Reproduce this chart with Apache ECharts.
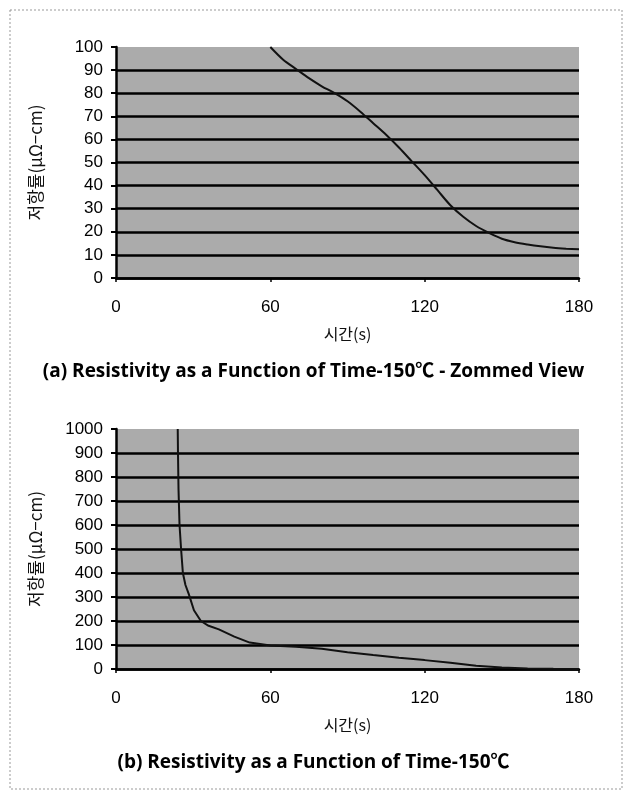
<!DOCTYPE html>
<html>
<head>
<meta charset="utf-8">
<script src="https://cdn.jsdelivr.net/npm/echarts@6/dist/echarts.min.js"></script>
<style>
html,body{margin:0;padding:0;background:#fff;}
#chart{width:627px;height:792px;}
</style>
</head>
<body>
<div id="chart"></div>
<script>
// ---- data ----
var xTicks = [0, 60, 120, 180];
var timeA = [60, 65, 70, 75, 80, 85, 90, 95, 100, 105, 110, 115, 120, 125, 130, 135, 140, 145, 150, 155, 160, 165, 170, 175, 180];
var resA  = [100, 94.5, 90.5, 86.5, 83, 80, 76.5, 72, 67, 62, 56.5, 50.5, 44.5, 38, 31.5, 26.5, 22.5, 19.5, 17, 15.5, 14.5, 13.7, 13.1, 12.7, 12.4];
var timeB = [24, 24.1, 24.3, 24.7, 25.3, 26, 27, 28.3, 30.3, 33, 36, 40, 46, 52, 60, 70, 80, 90, 100, 110, 120, 130, 140, 150, 160, 170, 180];
var resB  = [1000, 900, 750, 600, 500, 400, 350, 312, 245, 200, 180, 165, 135, 110, 98, 93, 84, 70, 58, 47, 37, 26, 14, 6, 2, 1, 0.5];
var yTicksA = [0, 10, 20, 30, 40, 50, 60, 70, 80, 90, 100];
var yTicksB = [0, 100, 200, 300, 400, 500, 600, 700, 800, 900, 1000];
var captionA = '(a) Resistivity as a Function of Time-150\u2103 - Zommed View';
var captionB = '(b) Resistivity as a Function of Time-150\u2103';
var xName = '\uC2DC\uAC04(s)';
var yName = '\uC800\uD56D\uB960(\u03BC\u03A9\u2212cm)';

function pairs(xs, ys){ return xs.map(function(x,i){ return [x, ys[i]]; }); }

var numFont = '"Liberation Sans", Arial, sans-serif';
var krFont = '"Noto Sans CJK KR", sans-serif';
var capFont = '"Open Sans", "Noto Sans CJK KR", sans-serif';

function xAxisCfg(idx){
  return {
    gridIndex: idx, type: 'value', min: xTicks[0], max: xTicks[xTicks.length-1], interval: 60,
    name: xName, nameLocation: 'middle', nameGap: 48,
    nameTextStyle: {fontFamily: krFont, fontSize: 16, color: '#111'},
    axisLine: {show: true, lineStyle: {color: '#000', width: 2.5}},
    axisTick: {show: true, length: 4, lineStyle: {color: '#000', width: 1.5}},
    axisLabel: {margin: 21, fontFamily: numFont, fontSize: 17, color: '#000',
      formatter: function(v){ return String(v); }},
    splitLine: {show: false}
  };
}
function yAxisCfg(idx, ticks){
  return {
    gridIndex: idx, type: 'value', min: ticks[0], max: ticks[ticks.length-1], interval: ticks[1]-ticks[0],
    name: yName, nameLocation: 'middle', nameGap: 72, nameRotate: 90,
    nameTextStyle: {fontFamily: krFont, fontSize: 17, color: '#111'},
    axisLine: {show: true, onZero: false, lineStyle: {color: '#000', width: 2.5}},
    axisTick: {show: true, length: 5, lineStyle: {color: '#000', width: 2}},
    axisLabel: {margin: 13, fontFamily: numFont, fontSize: 17, color: '#000',
      formatter: function(v){ return String(v); }},
    splitLine: {show: true, showMaxLine: false, lineStyle: {color: '#000', width: 2.5}}
  };
}

var chart = echarts.init(document.getElementById('chart'), null, {renderer: 'canvas'});
chart.setOption({
  backgroundColor: '#ffffff',
  animation: false,
  title: [
    {text: captionA, left: 'center', top: 357,
     textStyle: {fontFamily: capFont, fontSize: 19, fontWeight: 'bold', color: '#000'}},
    {text: captionB, left: 'center', top: 748,
     textStyle: {fontFamily: capFont, fontSize: 19, fontWeight: 'bold', color: '#000'}}
  ],
  graphic: [
    {type: 'rect', shape: {x: 10, y: 10, width: 612, height: 779},
     style: {fill: 'none', stroke: '#999', lineWidth: 1, lineDash: [2, 2]}, z: -1}
  ],
  grid: [
    {left: 116, top: 47, width: 463, height: 231, show: true, backgroundColor: '#ababab', borderWidth: 0},
    {left: 116, top: 429, width: 463, height: 240, show: true, backgroundColor: '#ababab', borderWidth: 0}
  ],
  xAxis: [xAxisCfg(0), xAxisCfg(1)],
  yAxis: [yAxisCfg(0, yTicksA), yAxisCfg(1, yTicksB)],
  series: [
    {type: 'line', xAxisIndex: 0, yAxisIndex: 0, data: pairs(timeA, resA), smooth: 0.3,
     showSymbol: false, lineStyle: {color: '#111', width: 2}, z: 5},
    {type: 'line', xAxisIndex: 1, yAxisIndex: 1, data: pairs(timeB, resB), smooth: false,
     showSymbol: false, lineStyle: {color: '#111', width: 2}, z: 5}
  ]
});
</script>
</body>
</html>
